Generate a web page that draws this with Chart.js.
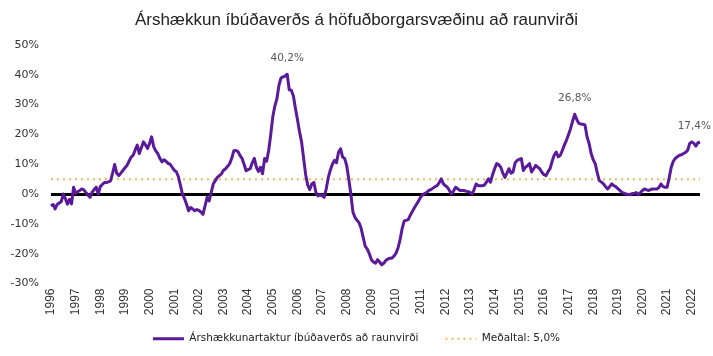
<!DOCTYPE html>
<html><head><meta charset="utf-8">
<script src="https://cdn.jsdelivr.net/npm/chart.js@4"></script>
<style>html,body{margin:0;padding:0;background:#fff}</style>
</head><body>
<canvas id="c" width="713" height="356"></canvas>
<script>
const chartTitle = 'Árshækkun íbúðaverðs á höfuðborgarsvæðinu að raunvirði';
const seriesName = 'Árshækkunartaktur íbúðaverðs að raunvirði';
const meanName = 'Meðaltal: 5,0%';
const meanValue = 5.0;
const years = [1996,1997,1998,1999,2000,2001,2002,2003,2004,2005,2006,2007,2008,2009,2010,2011,2012,2013,2014,2015,2016,2017,2018,2019,2020,2021,2022];
// monthly real annual growth, Jan 1996 - May 2022 (%)
const growth = [
 -4.0,-3.5,-5.0,-3.5,-3.0,-2.5,0.0,-1.5,-3.4,-1.8,-3.3,2.3,
 0.3,0.8,1.2,1.7,1.4,0.5,-0.3,-1.1,0.6,1.5,2.3,0.0,
 2.5,3.2,3.9,3.9,4.1,4.4,7.0,9.9,7.0,6.2,7.0,7.9,
 8.8,9.6,11.0,12.4,13.0,14.8,16.4,13.6,15.5,17.5,16.5,15.3,
 17.0,19.2,15.9,14.5,13.6,12.0,10.8,11.5,11.0,10.3,10.0,9.0,
 8.0,7.5,5.9,3.0,0.0,-1.5,-3.4,-5.6,-4.5,-5.0,-5.6,-5.2,
 -5.5,-6.0,-6.8,-4.0,-1.1,-2.3,0.5,3.4,4.5,5.6,6.2,6.8,
 8.0,8.5,9.3,10.2,12.0,14.5,14.6,14.3,13.0,12.0,10.0,7.8,
 8.2,8.5,10.5,12.0,9.0,7.6,9.0,6.8,11.9,11.0,14.7,20.0,
 26.0,29.5,32.0,36.5,39.0,39.3,39.6,40.2,35.0,34.8,33.0,28.8,
 25.0,21.0,17.5,12.0,6.5,3.0,1.5,3.4,3.9,0.5,-0.6,-0.3,
 -0.5,-1.1,1.7,5.5,8.0,10.0,11.3,10.5,14.0,15.2,12.4,11.9,
 9.5,5.0,0.0,-6.0,-7.8,-8.8,-9.6,-11.5,-14.5,-17.5,-18.5,-20.0,
 -22.0,-22.8,-23.2,-22.0,-22.8,-23.7,-23.2,-22.3,-21.8,-21.5,-21.5,-20.8,
 -19.8,-18.0,-15.2,-11.5,-9.0,-8.8,-8.5,-7.0,-5.8,-4.5,-3.4,-2.3,
 -1.0,-0.2,0.2,0.6,1.2,1.5,2.0,2.5,2.8,3.8,5.1,3.5,
 2.8,2.3,1.2,0.0,1.0,2.3,1.8,1.2,1.2,1.2,1.0,0.8,
 0.6,0.0,1.5,3.4,2.8,2.8,2.8,3.0,4.0,5.1,4.0,6.5,
 8.5,10.2,9.8,9.0,7.0,5.6,7.0,8.5,7.0,7.5,10.5,11.3,
 11.6,11.9,7.9,9.0,9.5,10.2,7.4,8.5,9.6,9.0,8.5,7.3,
 6.5,6.2,7.5,8.5,11.0,13.0,14.1,12.5,13.0,14.7,16.5,18.1,
 20.0,22.0,24.5,26.8,25.0,23.7,23.5,23.4,23.2,19.2,17.0,13.6,
 11.5,10.2,7.0,4.5,4.0,3.4,2.5,1.7,2.5,3.4,2.8,2.5,
 1.8,1.2,0.6,0.3,0.0,-0.1,-0.2,0.2,0.3,0.5,-0.2,0.5,
 1.2,1.7,1.4,1.2,1.5,1.7,1.7,1.7,2.2,3.4,2.5,2.3,
 2.3,5.5,9.0,11.0,12.0,12.5,13.0,13.2,13.6,14.0,14.7,17.0,
 17.5,17.0,16.1,17.2,17.4
];
const labelledIndices = [115, 255, 316];
const yTicks = [-30,-20,-10,0,10,20,30,40,50];

const months = growth.map((v, i) => years[Math.floor(i / 12)] + '-' + String(i % 12 + 1).padStart(2, '0'));
const meanLine = months.map(() => meanValue);

const purple = '#5a1a9a';
const gold = '#ebbb4e';

const peakLabels = {
  id: 'peakLabels',
  afterDatasetsDraw(chart) {
    const meta = chart.getDatasetMeta(0);
    const c = chart.ctx;
    c.save();
    c.font = "10.5px 'DejaVu Sans'";
    c.fillStyle = '#595959';
    c.textAlign = 'center';
    c.textBaseline = 'middle';
    labelledIndices.forEach(i => {
      const p = meta.data[i];
      const t = growth[i].toFixed(1).replace('.', ',') + '%';
      const w = c.measureText(t).width;
      const x = Math.min(p.x, chart.width - w / 2 - 2);
      c.fillText(t, x, p.y - 16);
    });
    c.restore();
  }
};

Chart.defaults.font.family = "'DejaVu Sans', sans-serif";
new Chart(document.getElementById('c'), {
  type: 'line',
  data: {
    labels: months,
    datasets: [
      { label: seriesName, data: growth, borderColor: purple, backgroundColor: purple, borderWidth: 3,
        pointRadius: 0, tension: 0, borderJoinStyle: 'round', order: 1 },
      { label: meanName, data: meanLine, borderColor: gold, backgroundColor: gold, borderWidth: 2,
        borderDash: [2, 4], pointRadius: 0, order: 2 }
    ]
  },
  options: {
    responsive: false,
    animation: false,
    devicePixelRatio: 1,
    layout: { padding: { left: 0, right: 0, top: 0, bottom: 2 } },
    plugins: {
      tooltip: { enabled: false },
      title: {
        display: true, text: chartTitle, color: '#222',
        font: { family: "'Liberation Sans', Arial, sans-serif", size: 17, weight: 'normal' },
        padding: { top: 10, bottom: 14.6 }
      },
      legend: {
        position: 'bottom',
        labels: {
          usePointStyle: true, pointStyleWidth: 31, padding: 27,
          font: { size: 10.5 }, color: '#222',
          generateLabels: chart => chart.data.datasets.map((ds, i) => ({
            text: ds.label, strokeStyle: ds.borderColor, fillStyle: ds.borderColor,
            lineWidth: ds.borderWidth, lineDash: ds.borderDash || [], pointStyle: 'line',
            datasetIndex: i, fontColor: '#222', hidden: false
          }))
        }
      }
    },
    scales: {
      x: {
        type: 'category',
        grid: { display: false, drawTicks: false },
        border: { display: false },
        ticks: {
          autoSkip: false, minRotation: 90, maxRotation: 90, padding: 5, color: '#333',
          font: { family: "'Liberation Sans', Arial, sans-serif", size: 12 },
          callback: function (val) {
            const l = this.getLabelForValue(val);
            return l.endsWith('-01') ? l.slice(0, 4) : null;
          }
        },
        afterFit: s => { s.height = 23; s._computeLabelArea = () => undefined; }
      },
      y: {
        min: -30, max: 50,
        afterBuildTicks: s => { s.ticks = yTicks.map(v => ({ value: v })); },
        grid: {
          drawTicks: false,
          color: ctx => (ctx.tick && ctx.tick.value === 0) ? '#000' : 'rgba(0,0,0,0)',
          lineWidth: ctx => (ctx.tick && ctx.tick.value === 0) ? 3 : 0
        },
        border: { display: false },
        ticks: { padding: 12, color: '#333', font: { size: 11 }, callback: v => v + '%' },
        afterFit: s => { s.width = 51; }
      },
      y2: {
        position: 'right', display: true,
        grid: { display: false, drawTicks: false }, border: { display: false },
        ticks: { display: false },
        afterFit: s => { s.width = 13; }
      }
    }
  },
  plugins: [peakLabels]
});
</script>
</body></html>
